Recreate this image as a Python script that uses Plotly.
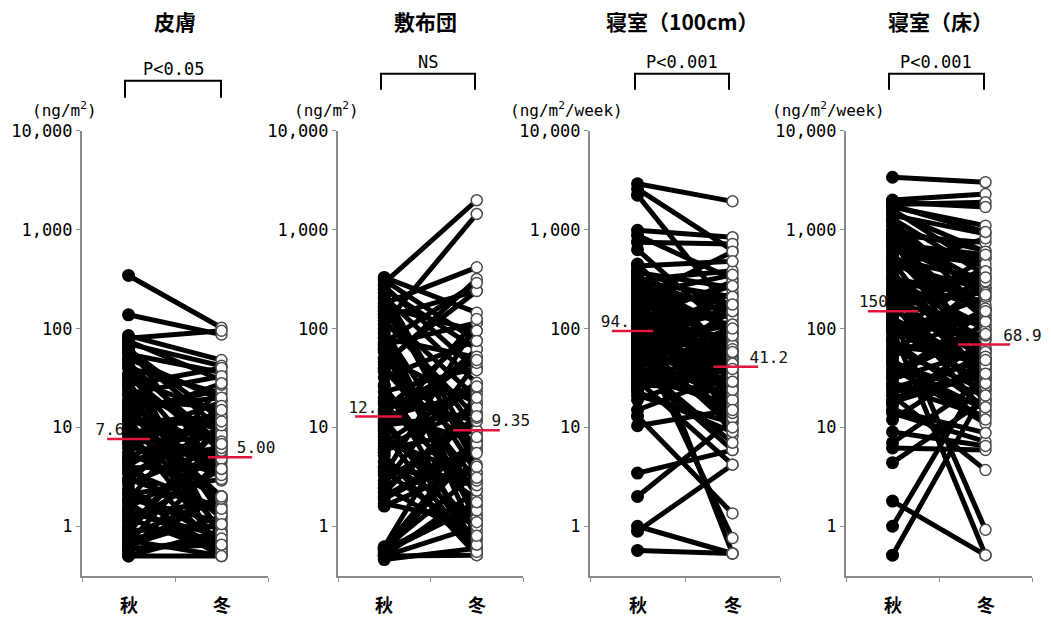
import plotly.graph_objects as go

# ---- data -------------------------------------------------------------
panel_titles = ["皮膚", "敷布団", "寝室（100cm）", "寝室（床）"]
p_labels = ["P<0.05", "NS", "P<0.001", "P<0.001"]
unit_labels = ["(ng/m<sup>2</sup>)", "(ng/m<sup>2</sup>)",
               "(ng/m<sup>2</sup>/week)", "(ng/m<sup>2</sup>/week)"]
season_labels = ["秋", "冬"]
tick_vals = [1, 10, 100, 1000, 10000]
tick_text = ["1", "10", "100", "1,000", "10,000"]

# paired samples: autumn value -> winter value (same index = same sample)
skin_autumn = [345, 138, 85, 80, 75, 70, 67, 62, 55, 50, 45, 40, 35, 31, 27, 24, 21, 19,
               17, 15, 13, 12, 11, 10, 9, 8.3, 7.63, 7.0, 6.2, 5.5, 5.0, 4.4, 3.9, 3.4,
               3.0, 2.7, 2.4, 2.1, 1.9, 1.7, 1.55, 1.4, 1.3, 1.2, 1.0, 0.9, 0.8, 0.72,
               0.65, 0.6, 0.55, 0.5, 0.5,
               58, 48, 33, 29, 22, 18, 16, 14, 11.5, 9.5, 8.8, 6.8, 4.7, 3.6, 2.9, 2.2,
               1.8, 1.1, 0.95, 0.75, 0.68, 0.58,
               42, 26, 12.5, 9.8, 4.1, 1.45, 0.85, 0.62]
skin_winter = [102, 87, 48, 95, 30, 42, 3.2, 12, 36, 19, 6, 22, 2.9, 14, 40, 9, 1.6, 16,
               4.5, 24, 7, 0.9, 11, 3.6, 5, 18, 1.2, 8, 5.5, 2.0, 13, 0.6, 4, 10,
               1.4, 6.5, 0.72, 3.0, 1.1, 0.5, 5.2, 0.8, 1.8, 0.55, 7.5, 1.0, 2.0, 0.5,
               1.25, 0.65, 4.8, 0.5, 0.9,
               9.5, 0.7, 5.8, 1.3, 33, 0.85, 20, 2.0, 12.5, 0.6, 8.5, 3.3, 6.2, 1.5, 16.5,
               0.55, 27, 3.8, 10.5, 1.05, 7.2, 0.75,
               6.8, 0.5, 28, 1.9, 15, 0.65, 11.5, 2.0]

futon_autumn = [330, 290, 250, 210, 180, 150, 130, 110, 95, 80, 68, 62, 58, 50, 43, 39,
                37, 32, 27, 23, 20, 17, 15, 13.5, 12.9, 12, 10.5, 9.2, 8, 7, 6, 5.2, 4.5,
                3.9, 3.3, 2.9, 2.5, 2.2, 1.9, 1.7, 1.6, 0.62, 0.6, 0.58, 0.55, 0.53, 0.5,
                0.5, 0.46,
                270, 200, 165, 120, 88, 46, 26, 18, 11, 8.6, 6.5, 4.0, 2.7, 2.0, 0.6, 0.5,
                310, 230, 140, 100, 72, 40, 14.5, 11.5, 9.8, 7.5, 5.6, 3.6, 2.4, 0.57]
futon_winter = [145, 1990, 62, 28, 417, 9.35, 241, 1445, 3.45, 51, 115, 2.0, 1.3, 17.7,
                317, 8.5, 5.8, 76, 0.6, 40, 11.6, 2.3, 95, 7.3, 22.4, 0.89, 14, 62, 1.9,
                28.3, 9.35, 0.51, 1.2, 2.86, 115, 11.6, 0.72, 17.7, 5.8, 1.07, 4.2, 22.4,
                3.45, 7.3, 1.6, 6.5, 0.51, 2.3, 0.6,
                38, 4.0, 95, 12.5, 0.75, 240, 1.45, 25, 52, 0.55, 16, 2.6, 45, 6.8, 8.0, 1.0,
                75, 5.5, 20, 1.1, 290, 2.9, 48, 0.65, 125, 3.1, 26, 0.8, 13, 1.75]

bed_autumn = [2920, 2590, 2240, 990, 880, 750, 630, 370, 340, 310, 280, 255, 230, 210,
              190, 170, 155, 140, 128, 115, 105, 94.5, 88, 80, 72, 65, 58, 52, 47, 42,
              38, 34, 30, 27, 24, 21, 13, 10.4, 3.45, 2.0, 1.0, 0.89, 0.57,
              450, 320, 265, 200, 160, 122, 100, 84, 76, 62, 55, 44, 36, 29,
              390, 360, 295, 245, 220, 180, 175, 150, 133, 118, 110, 98, 92, 86, 70, 60,
              50, 45, 40, 33, 26, 23, 19, 15,
              430, 350, 300, 270, 240, 185, 145, 108, 90, 78, 67, 57, 48, 39, 31, 25]
bed_winter = [1940, 620, 145, 840, 318, 720, 88, 260, 49, 385, 8.2, 177, 30.5, 107, 216,
              41.2, 0.53, 72, 15.1, 59, 24, 145, 38.6, 0.76, 41.2, 11.1, 88, 19.2, 49,
              5.9, 30.5, 107, 4.2, 24, 59, 11.1, 1.35, 15.1, 5.9, 12, 0.53, 4.2, 0.53,
              52, 140, 28, 600, 9.5, 300, 33, 230, 18, 45, 120, 7.0, 26, 22,
              165, 30, 95, 21, 350, 13, 130, 36, 78, 16, 52, 27, 190, 33, 110, 12.5,
              68, 25, 150, 17, 56, 9, 44, 35,
              480, 19, 210, 34, 62, 14, 270, 24, 85, 10, 175, 29, 100, 15, 58, 39]

floor_autumn = [3400, 2000, 1800, 1600, 1400, 1200, 1000, 880, 760, 660, 570, 500, 440,
                380, 330, 290, 250, 220, 190, 170, 150, 135, 120, 108, 98, 61, 52, 44,
                37, 31, 26, 21, 17, 14, 12, 7, 6.2, 4.4, 1.8, 1.0, 0.51,
                1700, 1300, 920, 700, 540, 410, 230, 140, 115, 90, 72, 40, 28, 19,
                1900, 1500, 1100, 950, 820, 610, 470, 350, 310, 270, 200, 180, 145, 128,
                112, 102, 80, 66, 56, 48, 34, 23, 15, 9,
                1750, 1250, 850, 720, 480, 320, 240, 175, 125, 95, 76, 58, 45, 33, 25, 18]
floor_winter = [3030, 2300, 1900, 400, 910, 198, 615, 745, 124, 505, 62, 318, 250, 30.5,
                157, 98, 78, 19.2, 49, 400, 68.9, 0.92, 38.6, 124, 0.51, 24, 157, 15.1,
                110, 62, 13, 3.7, 78, 7.2, 49, 30.5, 5.9, 19.2, 0.51, 38.6, 24,
                1100, 350, 48, 260, 175, 820, 34, 520, 27, 210, 44, 11, 17, 56,
                1700, 600, 45, 280, 22, 450, 160, 31, 105, 58, 230, 14, 380, 40,
                85, 26, 135, 52, 300, 12, 95, 33, 8.8, 6.5,
                950, 140, 36, 560, 28, 220, 18, 118, 42, 330, 16, 88, 21, 150, 48, 35]

median_autumn = [7.63, 12.9, 94.5, 150]
median_winter = [5.00, 9.35, 41.2, 68.9]
median_autumn_text = ["7.63", "12.9", "94.5", "150"]
median_winter_text = ["5.00", "9.35", "41.2", "68.9"]

panels = [(skin_autumn, skin_winter), (futon_autumn, futon_winter),
          (bed_autumn, bed_winter), (floor_autumn, floor_winter)]

# ---- geometry (pixels of the 1051 x 617 canvas) --------------------------
W, H = 1051, 617
FONT = "Noto Sans CJK JP, sans-serif"
MONO = "DejaVu Sans Mono, monospace"
AXIS_GRAY = "#8a8a8a"
RED = "#e0163c"
axis_px = [(82, 268), (338, 523), (590, 780), (846, 1032)]
y_top_px, y_bot_px = 133, 576
y_range = [-0.5, 4.0]

# median bar extents (x units) and label anchors
med_bar = [(0.54, 1.46, 2.71, 3.66), (0.37, 1.38, 2.49, 3.50),
           (0.46, 1.33, 2.60, 3.54), (0.47, 1.55, 2.41, 3.53)]
lab_x = [(1.12, 3.33), (1.06, 3.32), (1.04, 3.36), (0.90, 3.38)]

bracket_px = [(125, 221, 83, 100), (381, 475, 76, 92), (635, 729, 76, 92), (889, 984, 76, 92)]
p_text_px = [(173, 71), (428, 64), (682, 64), (936, 64)]
title_px = [175, 425, 682, 940]
unit_px = [30, 292, 508, 770]


def px(x):
    return x / W


def py(y):
    # canvas row (px from top) -> paper fraction, for the page's vertical offset
    return 1 - (y - 12.5) / 0.98 / H


fig = go.Figure()
layout = dict(
    width=W, height=H, margin=dict(l=0, r=0, t=0, b=0),
    paper_bgcolor="white", plot_bgcolor="white", showlegend=False,
    font=dict(family=FONT, color="black"),
)
annotations, shapes = [], []

for i, (aut, win) in enumerate(panels):
    sfx = "" if i == 0 else str(i + 1)
    xr, yr = "x" + sfx, "y" + sfx
    common = dict(xaxis=xr, yaxis=yr, hoverinfo="skip", showlegend=False)

    # median value labels, placed under the markers
    fig.add_trace(go.Scatter(
        x=[lab_x[i][0], lab_x[i][1]], y=[median_autumn[i], median_winter[i]],
        mode="text", text=[median_autumn_text[i], median_winter_text[i]],
        textposition=["top left", "top right"],
        textfont=dict(family=MONO, size=16, color="#111"), cliponaxis=False, **common))

    # paired connecting lines
    xs, ys = [], []
    for a, w in zip(aut, win):
        xs += [1, 3, None]
        ys += [a, w, None]
    fig.add_trace(go.Scatter(x=xs, y=ys, mode="lines",
                             line=dict(color="black", width=5), **common))
    # autumn (filled) and winter (open) markers
    fig.add_trace(go.Scatter(x=[1] * len(aut), y=aut, mode="markers",
                             marker=dict(size=13, color="black", line=dict(width=0)),
                             cliponaxis=False, **common))
    fig.add_trace(go.Scatter(x=[3] * len(win), y=win, mode="markers",
                             marker=dict(size=11, color="white",
                                         line=dict(color="#4a4a4a", width=1.5)),
                             cliponaxis=False, **common))
    # median bars
    b = med_bar[i]
    fig.add_trace(go.Scatter(
        x=[b[0], b[1], None, b[2], b[3]],
        y=[median_autumn[i], median_autumn[i], None, median_winter[i], median_winter[i]],
        mode="lines", line=dict(color=RED, width=2.5), **common))

    x0, x1 = axis_px[i]
    layout["xaxis" + sfx] = dict(
        domain=[px(x0), px(x1)], range=[0, 4], anchor=yr,
        showline=True, linecolor=AXIS_GRAY, linewidth=2,
        tickvals=[0, 2, 4], ticks="outside", ticklen=4, tickcolor=AXIS_GRAY,
        showticklabels=False, showgrid=False, zeroline=False, fixedrange=True)
    layout["yaxis" + sfx] = dict(
        domain=[py(y_bot_px), py(y_top_px)], type="log", range=y_range, anchor=xr,
        showline=True, linecolor=AXIS_GRAY, linewidth=2,
        tickvals=tick_vals, ticktext=tick_text, ticks="outside", ticklen=4,
        tickcolor=AXIS_GRAY, tickfont=dict(family=MONO, size=17, color="black"),
        showgrid=False, zeroline=False, fixedrange=True)

    # panel title
    annotations.append(dict(x=px(title_px[i]), y=py(23), xref="paper", yref="paper",
                            text="<b>" + panel_titles[i] + "</b>", showarrow=False,
                            font=dict(family=FONT, size=21), xanchor="center", yanchor="middle"))
    # significance bracket and label
    bx0, bx1, bt, bb = bracket_px[i]
    shapes.append(dict(type="path", xref="paper", yref="paper",
                       path=f"M {px(bx0)},{py(bb)} L {px(bx0)},{py(bt)} "
                            f"L {px(bx1)},{py(bt)} L {px(bx1)},{py(bb)}",
                       line=dict(color="black", width=2)))
    tx, ty = p_text_px[i]
    annotations.append(dict(x=px(tx), y=py(ty), xref="paper", yref="paper",
                            text=p_labels[i], showarrow=False,
                            font=dict(family=MONO, size=17), xanchor="center", yanchor="middle"))
    # unit label
    annotations.append(dict(x=px(unit_px[i]), y=py(112), xref="paper", yref="paper",
                            text=unit_labels[i], showarrow=False,
                            font=dict(family=MONO, size=16), xanchor="left", yanchor="middle"))
    # season labels
    for k, xv in enumerate([1, 3]):
        annotations.append(dict(x=xv, y=py(604), xref=xr, yref="paper",
                                text="<b>" + season_labels[k] + "</b>", showarrow=False,
                                font=dict(family=FONT, size=18), xanchor="center",
                                yanchor="middle"))

layout["annotations"] = annotations
layout["shapes"] = shapes
fig.update_layout(**layout)
fig.write_html("out.html")
